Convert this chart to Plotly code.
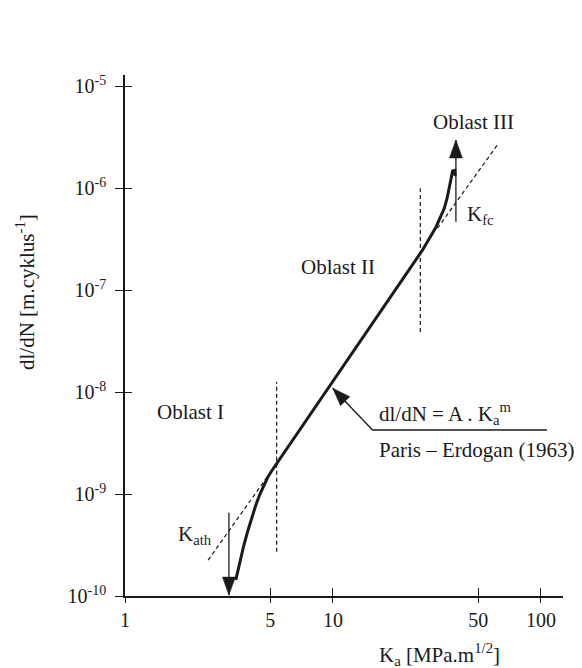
import numpy as np
import plotly.graph_objects as go

# ---------------- data ----------------
# Fatigue crack growth curve  dl/dN vs K_a
curve_K = [3.41, 3.56, 3.72, 3.89, 4.07, 4.25, 4.44, 4.64, 4.85, 5.07,
           10.0, 26.97,
           31.3, 32.8, 34.3, 35.4, 36.4, 37.0, 37.6, 38.5, 38.7]
curve_rate = [1.44e-10, 2.14e-10, 3.09e-10, 4.32e-10, 5.87e-10, 7.71e-10,
              9.82e-10, 1.21e-9, 1.45e-9, 1.68e-9,
              1.29e-8, 2.47e-7,
              4.15e-7, 5.08e-7, 6.32e-7, 7.98e-7, 1.05e-6, 1.31e-6,
              1.47e-6, 1.49e-6, 1.31e-6]

# Paris-law extensions (dashed)
paris_low_K = [2.51, 4.78]
paris_low_rate = [2.25e-10, 1.43e-9]
paris_high_K = [31.8, 61.7]
paris_high_rate = [4.03e-7, 2.64e-6]

# Region boundaries (vertical dashed)
boundary_K = [5.36, 26.3]
boundary_low = [2.72e-10, 3.87e-8]
boundary_high = [1.26e-8, 9.93e-7]

# Threshold / critical arrows
K_ath = 3.16
K_ath_rate = [6.56e-10, 1.02e-10]   # stem start -> tip
K_fc = 39.0
K_fc_rate = [4.68e-7, 2.96e-6]      # stem start -> tip

# Leader for the Paris-Erdogan label
leader_K = [9.97, 15.5, 106.9]
leader_rate = [1.09e-8, 4.24e-9, 4.24e-9]

# Axis ticks
x_tickvals = [1, 5, 10, 50, 100]
x_ticktext = ["1", "5", "10", "50", "100"]
y_tickvals = [1e-10, 1e-9, 1e-8, 1e-7, 1e-6, 1e-5]
y_ticktext = ["10<sup>-10</sup>", "10<sup>-9</sup>", "10<sup>-8</sup>",
              "10<sup>-7</sup>", "10<sup>-6</sup>", "10<sup>-5</sup>"]

# Text labels (position in data units)
labels = [
    ("Oblast III", 47.2, 4.43e-6, "center"),
    ("Oblast II", 10.6, 1.68e-7, "center"),
    ("Oblast I", 2.07, 6.37e-9, "center"),
    ("K<sub>ath</sub>", 2.17, 4.0e-10, "center"),
    ("K<sub>fc</sub>", 51.0, 5.4e-7, "center"),
    ("dl/dN = A . K<sub>a</sub><sup>m</sup>", 16.2, 6.22e-9, "left"),
    ("Paris \u2013 Erdogan (1963)", 16.2, 2.70e-9, "left"),
]

# ---------------- figure ----------------
FONT = "Liberation Serif, Times New Roman, serif"
INK = "#1a1a1a"
XR = [0, 2.106]
YR = [-10, -4.892]

fig = go.Figure()

dash = dict(color=INK, width=1.2, dash="4px,3px")
fig.add_trace(go.Scatter(x=paris_low_K, y=paris_low_rate, mode="lines", line=dash))
fig.add_trace(go.Scatter(x=paris_high_K, y=paris_high_rate, mode="lines", line=dash))
for k, lo, hi in zip(boundary_K, boundary_low, boundary_high):
    fig.add_trace(go.Scatter(x=[k, k], y=[lo, hi], mode="lines", line=dash))

stem = dict(color=INK, width=1.3)
fig.add_trace(go.Scatter(x=[K_ath, K_ath], y=K_ath_rate, mode="lines", line=stem))
fig.add_trace(go.Scatter(x=[K_fc, K_fc], y=K_fc_rate, mode="lines", line=stem))
fig.add_trace(go.Scatter(x=leader_K, y=leader_rate, mode="lines", line=stem))

fig.add_trace(go.Scatter(x=curve_K, y=curve_rate, mode="lines",
                         line=dict(color=INK, width=3)))

# dummy trace for the overlaid axes that carry the inner half of the ticks
fig.add_trace(go.Scatter(x=[], y=[], xaxis="x2", yaxis="y2", mode="lines"))


def arrowhead(k, r, ux, uy, L=18, W=13):
    """filled arrowhead, tip at (k, r), pointing along screen direction (ux, uy)"""
    n = np.hypot(ux, uy)
    ux, uy = ux / n, uy / n
    # pixel coords with y up
    dxu, dyu = ux, -uy
    bx, by = -L * dxu, -L * dyu
    px, py = -dyu, dxu
    p1 = (bx + W / 2 * px, by + W / 2 * py)
    p2 = (bx - W / 2 * px, by - W / 2 * py)
    path = f"M0,0 L{p1[0]:.2f},{p1[1]:.2f} L{p2[0]:.2f},{p2[1]:.2f} Z"
    return dict(type="path", xref="x", yref="y", xsizemode="pixel", ysizemode="pixel",
                xanchor=k, yanchor=r, path=path, fillcolor=INK,
                line=dict(color=INK, width=0.5))


shapes = [
    arrowhead(K_ath, K_ath_rate[1], 0, 1),
    arrowhead(K_fc, K_fc_rate[1], 0, -1),
    arrowhead(leader_K[0], leader_rate[0], -40, -41.7),
]

annotations = []
for text, k, r, anchor in labels:
    annotations.append(dict(text=text, x=np.log10(k), y=np.log10(r), xref="x", yref="y",
                            xanchor=anchor, yanchor="middle", showarrow=False,
                            font=dict(family=FONT, size=21, color=INK)))
annotations.append(dict(text="K<sub>a</sub> [MPa.m<sup>1/2</sup>]", x=0.719, y=-0.113,
                        xref="paper", yref="paper", showarrow=False,
                        xanchor="center", yanchor="middle",
                        font=dict(family=FONT, size=21, color=INK)))
annotations.append(dict(text="dl/dN [m.cyklus<sup>-1</sup>]", x=-0.226, y=0.5835,
                        xref="paper", yref="paper", showarrow=False, textangle=-90,
                        xanchor="center", yanchor="middle",
                        font=dict(family=FONT, size=21, color=INK)))

common = dict(showgrid=False, zeroline=False, tickwidth=1.2, tickcolor=INK)

fig.update_layout(
    width=582, height=668,
    margin=dict(l=125, r=19, t=75, b=72),
    paper_bgcolor="white", plot_bgcolor="white",
    showlegend=False,
    font=dict(family=FONT, size=20, color=INK),
    xaxis=dict(type="log", range=XR, tickvals=x_tickvals, ticktext=x_ticktext,
               ticks="outside", ticklen=5, showline=True, linecolor=INK, linewidth=1.5,
               ticklabelstandoff=0,
               tickfont=dict(family=FONT, size=20, color=INK), **common),
    yaxis=dict(type="log", range=YR, tickvals=y_tickvals, ticktext=y_ticktext,
               ticks="outside", ticklen=8, showline=True, linecolor=INK, linewidth=1.5,
               ticklabelstandoff=5,
               tickfont=dict(family=FONT, size=20, color=INK), **common),
    xaxis2=dict(type="log", range=XR, overlaying="x", anchor="y", side="bottom",
                tickvals=x_tickvals, ticks="inside", ticklen=8, showticklabels=False,
                showline=False, **common),
    yaxis2=dict(type="log", range=YR, overlaying="y", anchor="x", side="left",
                tickvals=y_tickvals, ticks="inside", ticklen=7, showticklabels=False,
                showline=False, **common),
    shapes=shapes,
    annotations=annotations,
)

fig.write_html("out.html")
